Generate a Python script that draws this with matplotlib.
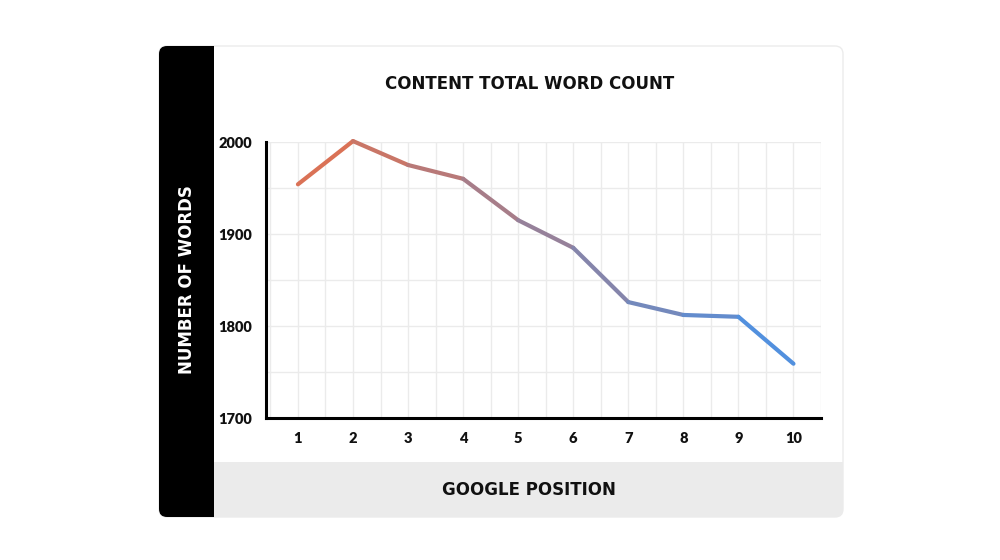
import matplotlib
matplotlib.use("Agg")
import matplotlib.pyplot as plt
import numpy as np
from matplotlib.collections import LineCollection
from matplotlib.patches import FancyBboxPatch, Rectangle
from matplotlib.transforms import IdentityTransform
from matplotlib.colors import to_rgb

posicoes = [1, 2, 3, 4, 5, 6, 7, 8, 9, 10]
palavras = [1954, 2001, 1975, 1960, 1915, 1885, 1826, 1812, 1810, 1759]
yticks = [1700, 1800, 1900, 2000]

titulo = "CONTENT TOTAL WORD COUNT"
rotulo_x = "GOOGLE POSITION"
rotulo_y = "NUMBER OF WORDS"

cor_inicio = "#e2704e"
cor_fim = "#4a92e6"

W, H = 1000, 560
fig = plt.figure(figsize=(10, 5.6), dpi=100)
fig.patch.set_facecolor("white")
plt.rcParams["font.family"] = ["Lato", "DejaVu Sans"]


def px(x0, y0, x1, y1):
    # caixa em pixels (origem no topo) -> coords de display
    return x0, H - y1, x1 - x0, y1 - y0


def caixa(x0, y0, x1, y1, cor, raio=0, z=0, borda="none"):
    x, y, w, h = px(x0, y0, x1, y1)
    if raio:
        p = FancyBboxPatch((x, y), w, h, boxstyle=f"round,pad=0,rounding_size={raio}",
                           transform=IdentityTransform(), facecolor=cor, edgecolor=borda,
                           linewidth=1, zorder=z)
    else:
        p = Rectangle((x, y), w, h, transform=IdentityTransform(), facecolor=cor,
                      edgecolor="none", zorder=z)
    fig.add_artist(p)


# cartão
caixa(159, 46, 843, 517, "white", raio=8, z=0, borda="#ececec")
caixa(159, 46, 214, 517, "black", raio=8, z=1)
caixa(200, 46, 214, 517, "black", z=1)
caixa(214, 462, 843, 517, "#ebebeb", raio=8, z=3)
caixa(214, 462, 843, 490, "#ebebeb", z=4)
caixa(214, 462, 240, 517, "#ebebeb", z=4)

ax = fig.add_axes([266 / W, 1 - 418 / H, (821 - 266) / W, (418 - 142) / H])
ax.set_zorder(5)
ax.patch.set_alpha(0)

ax.set_xlim(0.42, 10.5)
ax.set_ylim(1700, 2000)

ax.set_xticks(posicoes)
ax.set_xticklabels([str(p) for p in posicoes])
ax.set_yticks(yticks)
ax.set_yticklabels([str(v) for v in yticks])
ax.tick_params(which="major", length=0, labelsize=10.5, pad=10, colors="#111111")
for lab in ax.get_xticklabels() + ax.get_yticklabels():
    lab.set_fontweight("heavy")

# grade a cada meia posição e a cada 50 palavras
for gx in np.arange(0.5, 10.6, 0.5):
    ax.axvline(gx, color="#ebebeb", linewidth=1, zorder=0)
for gy in np.arange(1750, 2001, 50):
    ax.axhline(gy, color="#ebebeb", linewidth=1, zorder=0)

for s in ["top", "right"]:
    ax.spines[s].set_visible(False)
for s in ["left", "bottom"]:
    ax.spines[s].set_linewidth(2.2)
    ax.spines[s].set_color("black")

# linha em degradê
pts = np.column_stack([posicoes, palavras])
segs = np.stack([pts[:-1], pts[1:]], axis=1)
c0 = np.array(to_rgb(cor_inicio))
c1 = np.array(to_rgb(cor_fim))
t = (np.arange(len(segs)) + 0.5) / len(segs)
cores = [c0 + (c1 - c0) * ti for ti in t]
lc = LineCollection(segs, colors=cores, linewidths=3, capstyle="round", joinstyle="round",
                    clip_on=False, zorder=3)
ax.add_collection(lc)

fonte_rot = ["DejaVu Sans"]
fig.text(530 / W, 1 - 84 / H, titulo, ha="center", va="center", fontsize=12,
         fontweight="bold", color="#111111", zorder=6, family=fonte_rot)
fig.text(529 / W, 1 - 490 / H, rotulo_x, ha="center", va="center", fontsize=12,
         fontweight="bold", color="#111111", zorder=6, family=fonte_rot)
fig.text(187 / W, 1 - 280 / H, rotulo_y, ha="center", va="center", rotation=90,
         fontsize=12, fontweight="bold", color="white", zorder=6, family=fonte_rot)

fig.savefig("out.png", dpi=100, facecolor="white")
